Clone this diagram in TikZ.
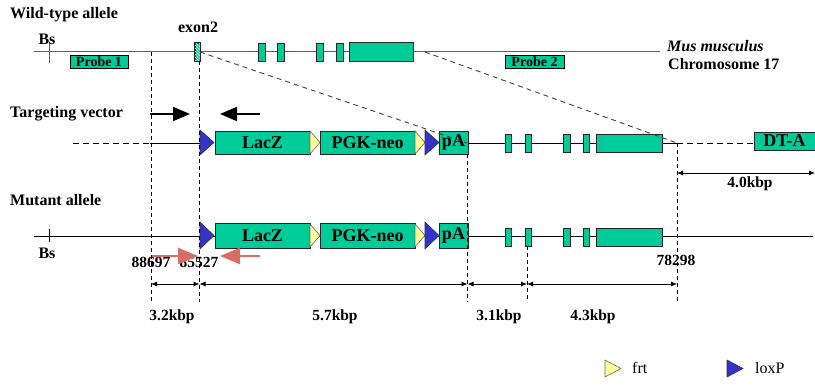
\documentclass[tikz,border=0pt]{standalone}
\usepackage{fontspec}
\setmainfont{Liberation Serif}
\usetikzlibrary{arrows.meta,patterns}
\definecolor{exon}{RGB}{0,204,153}
\definecolor{loxblue}{RGB}{51,51,204}
\definecolor{frtyel}{RGB}{255,255,153}
\definecolor{primer}{RGB}{214,110,100}
\definecolor{chrgray}{RGB}{95,95,95}
\tikzset{
  lbl/.style={font=\bfseries\fontsize{16}{19}\selectfont, inner sep=0pt},
  dimlbl/.style={font=\bfseries\fontsize{15.5}{18}\selectfont, inner sep=0pt},
  boxlbl/.style={font=\bfseries\fontsize{18}{21}\selectfont},
  exonbox/.style={draw=black!85, fill=exon, line width=0.8pt, inner sep=0pt},
  genebox/.style={exonbox, boxlbl},
  probebox/.style={draw=black, fill=exon, line width=0.8pt, inner sep=0pt,
    font=\bfseries\fontsize{14}{16}\selectfont},
  chrline/.style={draw=chrgray, line width=1pt},
  dnaline/.style={draw=black, line width=0.8pt},
  dnadash/.style={draw=black, line width=0.8pt, dash pattern=on 6pt off 4pt},
  diag/.style={draw=black!75, line width=0.9pt, dash pattern=on 5pt off 4pt},
  vdash/.style={draw=black, line width=0.8pt, dash pattern=on 4pt off 3pt},
  dimarrow/.style={draw=black, line width=0.8pt, {Latex[length=6pt,width=5pt]}-{Latex[length=6pt,width=5pt]}},
  blackarrow/.style={draw=black, line width=2pt, -{Triangle[length=17pt,width=14pt]}},
  redarrow/.style={draw=primer, line width=2.5pt, -{Triangle[length=20pt,width=16pt]}},
  loxtri/.style={draw=black!80, fill=loxblue, line width=0.6pt},
  frttri/.style={draw=black!60, fill=frtyel, line width=0.6pt},
}
\begin{document}
\begin{tikzpicture}[x=1pt,y=-1pt]
\useasboundingbox (0,0) rectangle (815,390);

% ---------------- Wild-type allele ----------------
\node[lbl, anchor=west] (wtlabel) at (10,15) {Wild-type allele};
\coordinate (wL) at (34,52);
\coordinate (wR) at (660,52);
\draw[chrline] (wL) -- (wR);
\coordinate (bs1top) at (49,42);
\coordinate (bs1bot) at (49,63);
\draw[chrline] (bs1top) -- (bs1bot);
\node[lbl] (bs1) at (47,39) {Bs};
\node[lbl] (exon2lbl) at (198,27) {exon2};
\node[draw=black!85, line width=0.8pt, fill=exon, minimum width=5pt, minimum height=18pt, inner sep=0pt] (ex2) at (197.5,52) {};
\path[pattern=north west lines, pattern color=white] (ex2.south west) rectangle (ex2.north east);
\draw[black!85, line width=0.8pt] (ex2.south west) rectangle (ex2.north east);
\node[exonbox, minimum width=7pt, minimum height=18pt] (we1) at (261.5,52) {};
\node[exonbox, minimum width=7pt, minimum height=18pt] (we2) at (280.5,52) {};
\node[exonbox, minimum width=7pt, minimum height=18pt] (we3) at (319.5,52) {};
\node[exonbox, minimum width=7pt, minimum height=18pt] (we4) at (339.5,52) {};
\node[exonbox, minimum width=64pt, minimum height=19pt] (we5) at (381,51.5) {};
\node[probebox, minimum width=58pt, minimum height=13pt] (probe1) at (99,61.5) {Probe 1};
\node[probebox, minimum width=59pt, minimum height=13pt] (probe2) at (534.5,61.5) {Probe 2};
\node[lbl, anchor=west, font=\bfseries\itshape\fontsize{16}{19}\selectfont] (mus) at (667,46) {Mus musculus};
\node[lbl, anchor=west] (chr17) at (668,64) {Chromosome 17};

% ---------------- Targeting vector ----------------
\node[lbl, anchor=west] (tvlabel) at (10,114) {Targeting vector};
\coordinate (fwdA) at (150,114);
\coordinate (fwdB) at (190,114);
\coordinate (revA) at (260,114);
\coordinate (revB) at (220,114);
\draw[blackarrow] (fwdA) -- (fwdB);
\draw[blackarrow] (revA) -- (revB);

\coordinate (tvL) at (73,143);
\coordinate (tvM) at (150,143);
\coordinate (tvlox) at (200,143);
\draw[dnadash] (tvL) -- (tvM);
\draw[dnaline] (tvM) -- (tvlox);

\node[genebox, minimum width=95pt, minimum height=23pt] (lacz1) at (262.5,142.5) {LacZ};
\node[genebox, minimum width=95pt, minimum height=23pt] (neo1) at (367.5,142.5) {PGK-neo};
\node[genebox, minimum width=29pt, minimum height=23pt] (pa1) at (453.5,142.5) {pA};
\draw[loxtri] (200,130) -- (214,142.5) -- (200,155) -- cycle;
\draw[frttri] (310,131) -- (320,142.5) -- (310,154) -- cycle;
\draw[frttri] (415,131) -- (425,142.5) -- (415,154) -- cycle;
\draw[loxtri] (425,130) -- (439,142.5) -- (425,155) -- cycle;

\coordinate (tvR) at (677,143);
\draw[dnaline] (pa1.east |- tvR) -- (tvR);
\node[exonbox, minimum width=6pt, minimum height=18pt] (te1) at (508,143) {};
\node[exonbox, minimum width=6pt, minimum height=18pt] (te2) at (528,143) {};
\node[exonbox, minimum width=7pt, minimum height=18pt] (te3) at (566.5,143) {};
\node[exonbox, minimum width=6pt, minimum height=18pt] (te4) at (586,143) {};
\node[exonbox, minimum width=66pt, minimum height=18pt] (te5) at (629,143) {};
\node[genebox, minimum width=61pt, minimum height=18pt] (dta) at (784.5,141) {DT-A};
\draw[dnadash] (tvR) -- (dta.west |- tvR);

\coordinate (dimR) at (815,173);
\coordinate (dimL) at (677,173);
\draw[dimarrow] (dimL) -- (dimR);
\node[dimlbl] (k40) at (750,184) {4.0kbp};

% diagonal homology lines
\coordinate (d1a) at (200,52);
\coordinate (d1b) at (467,143);
\coordinate (d2a) at (425,52);
\draw[diag] (d1a) -- (d1b);
\draw[diag] (d2a) -- (tvR);

% ---------------- Mutant allele ----------------
\node[lbl, anchor=west] (mutlabel) at (10,200) {Mutant allele};
\coordinate (mL) at (34,236);
\coordinate (mR) at (813,236);
\draw[dnaline] (mL) -- (mR);
\coordinate (bs2top) at (49,229);
\coordinate (bs2bot) at (49,242);
\draw[dnaline] (bs2top) -- (bs2bot);
\node[lbl] (bs2) at (47,253) {Bs};

\node[genebox, minimum width=95pt, minimum height=25pt] (lacz2) at (262.5,235.5) {LacZ};
\node[genebox, minimum width=95pt, minimum height=25pt] (neo2) at (367.5,235.5) {PGK-neo};
\node[genebox, minimum width=29pt, minimum height=25pt] (pa2) at (453.5,235.5) {pA};
\draw[loxtri] (200,222) -- (214,235.5) -- (200,249) -- cycle;
\draw[frttri] (310,224) -- (320,235.5) -- (310,247) -- cycle;
\draw[frttri] (415,224) -- (425,235.5) -- (415,247) -- cycle;
\draw[loxtri] (425,222) -- (439,235.5) -- (425,249) -- cycle;
\node[exonbox, minimum width=6pt, minimum height=18pt] (me1) at (508,237) {};
\node[exonbox, minimum width=6pt, minimum height=18pt] (me2) at (528,237) {};
\node[exonbox, minimum width=7pt, minimum height=18pt] (me3) at (566.5,237) {};
\node[exonbox, minimum width=6pt, minimum height=18pt] (me4) at (586,237) {};
\node[exonbox, minimum width=66pt, minimum height=18pt] (me5) at (629,237) {};

\node[dimlbl] (n88697) at (151,262) {88697};
\node[dimlbl] (n85527) at (199,262) {85527};
\node[dimlbl] (n78298) at (676,260) {78298};

\coordinate (rfA) at (152,256);
\coordinate (rfB) at (198,256);
\coordinate (rrA) at (260,256);
\coordinate (rrB) at (220,256);
\draw[redarrow] (rfA) -- (rfB);
\draw[redarrow] (rrA) -- (rrB);

% ---------------- vertical guides and distances ----------------
\coordinate (v1t) at (151,52);   \coordinate (v1b) at (151,302);
\coordinate (v2t) at (199.5,61); \coordinate (v2b) at (199.5,302);
\coordinate (v3t) at (467.5,154);\coordinate (v3b) at (467.5,302);
\coordinate (v4t) at (527,246);  \coordinate (v4b) at (527,302);
\coordinate (v5b) at (677,302);
\draw[vdash] (v1t) -- (v1b);
\draw[vdash] (v2t) -- (v2b);
\draw[vdash] (v3t) -- (v3b);
\draw[vdash] (v4t) -- (v4b);
\draw[vdash] (tvR) -- (v5b);

\coordinate (h1) at (151,284);
\coordinate (h2) at (199.5,284);
\coordinate (h3) at (467.5,284);
\coordinate (h4) at (527,284);
\coordinate (h5) at (677,284);
\draw[dimarrow] (h1) -- (h2);
\draw[dimarrow] (h2) -- (h3);
\draw[dimarrow] (h3) -- (h4);
\draw[dimarrow] (h4) -- (h5);
\node[dimlbl] (k32) at (172,317) {3.2kbp};
\node[dimlbl] (k57) at (335,317) {5.7kbp};
\node[dimlbl] (k31) at (499,317) {3.1kbp};
\node[dimlbl] (k43) at (593,317) {4.3kbp};

% ---------------- legend ----------------
\draw[frttri] (605,360) -- (621,368.5) -- (605,377) -- cycle;
\node[anchor=west, font=\fontsize{16}{19}\selectfont, inner sep=0pt] (frtlbl) at (632,368) {frt};
\draw[loxtri] (727,360) -- (743,368.5) -- (727,377) -- cycle;
\node[anchor=west, font=\fontsize{16}{19}\selectfont, inner sep=0pt] (loxlbl) at (755,368) {loxP};
\end{tikzpicture}
\end{document}
